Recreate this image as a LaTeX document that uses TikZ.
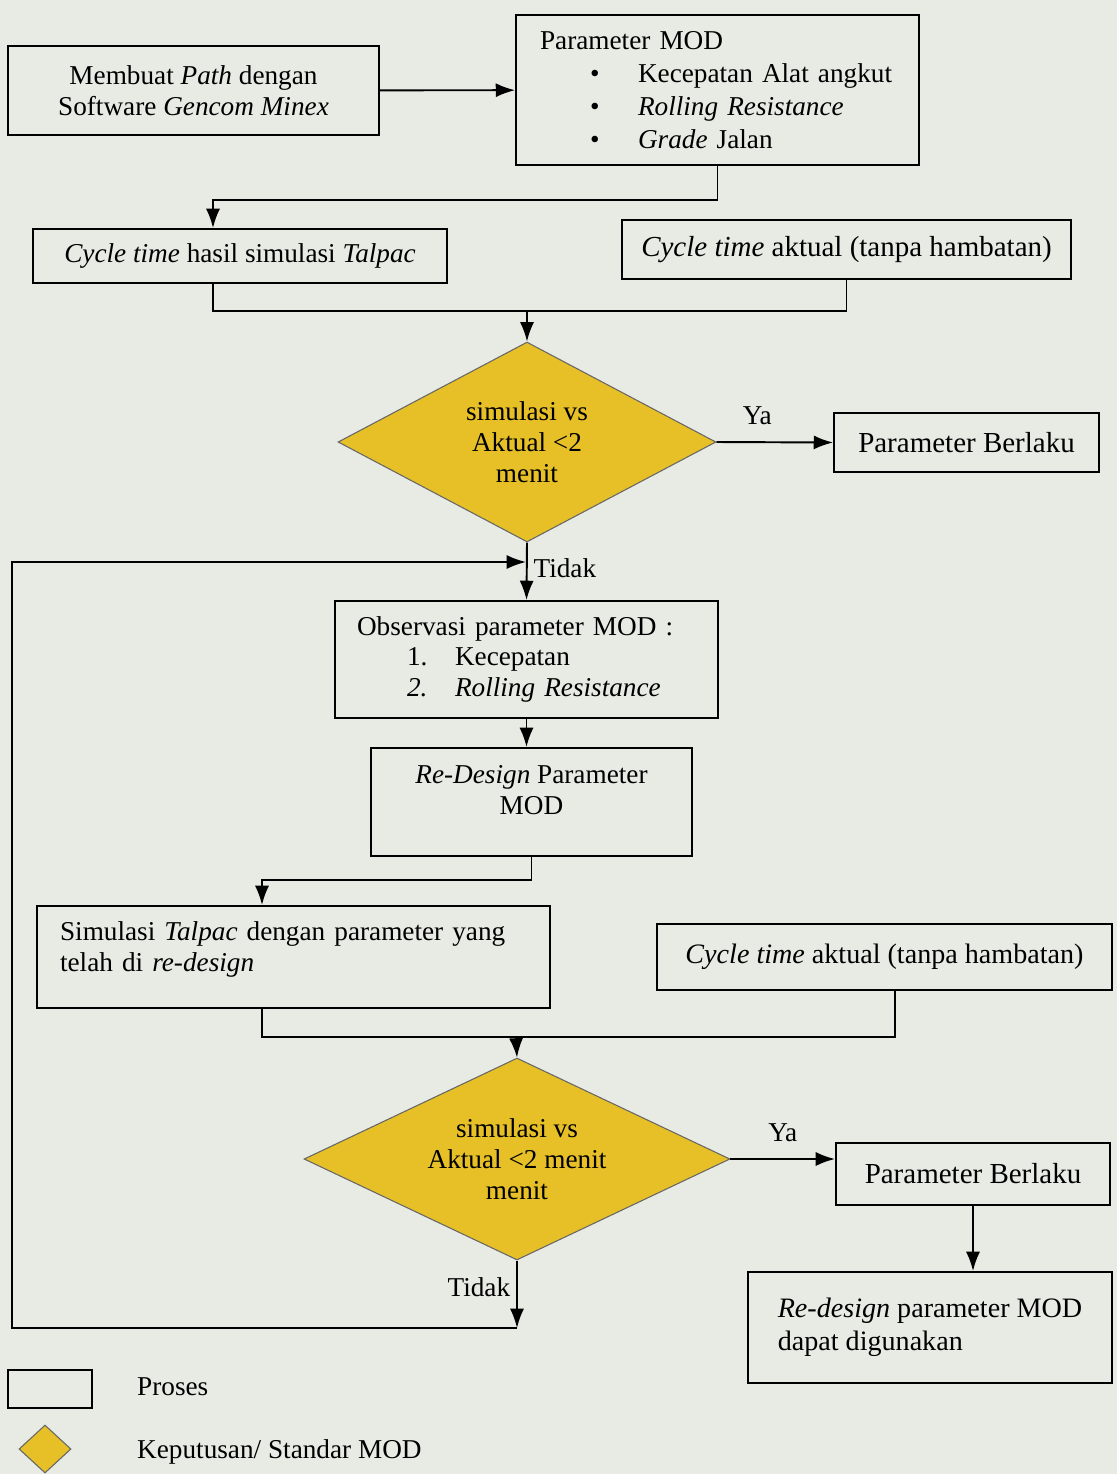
\documentclass[tikz,border=0pt]{standalone}
\usepackage{fontspec}
\setmainfont{Liberation Serif}
\usetikzlibrary{shapes.geometric, arrows.meta}

\definecolor{latar}{RGB}{232,234,228}
\definecolor{kuning}{RGB}{230,192,38}

\tikzset{
  teks/.style={font={\fontsize{15.5}{17.5}\selectfont}},
  proses/.style={draw=black, line width=1.1pt, inner sep=0pt, teks},
  keputusan/.style={diamond, aspect=2.2, draw=black!60, fill=kuning, line width=0.6pt, inner sep=0pt, align=center, teks},
  garis/.style={line width=1.1pt},
  panah/.style={line width=1.1pt, -{Latex[length=11pt, width=8pt]}},
}

\begin{document}
\begin{tikzpicture}[x=0.02cm, y=-0.02cm]

\fill [latar] (0,0) rectangle (1117,1474);
\useasboundingbox (0,0) rectangle (1117,1474);

% baris atas
\node [proses, minimum width=7.42cm, minimum height=1.78cm, align=center] (path)
 at (193.5, 90.5) {Membuat \textit{Path} dengan\\Software \textit{Gencom Minex}};

\node [proses, minimum width=8.06cm, minimum height=3cm, text width=7.1cm, inner xsep=0.48cm,
align=left, font={\fontsize{15.5}{18.7}\selectfont}] (param)
 at (717.5, 90) {Parameter MOD\\
\hspace*{1cm}\makebox[0.96cm][l]{\textbullet}Kecepatan Alat angkut\\
\hspace*{1cm}\makebox[0.96cm][l]{\textbullet}\textit{Rolling Resistance}\\
\hspace*{1cm}\makebox[0.96cm][l]{\textbullet}\textit{Grade} Jalan};

\node [proses, minimum width=8.28cm, minimum height=1.08cm] (hasil)
 at (240, 256) {\textit{Cycle time} hasil simulasi \textit{Talpac}};

\node [proses, minimum width=8.98cm, minimum height=1.18cm, font={\fontsize{16.5}{18}\selectfont}] (aktual)
 at (846.5, 249.5) {\textit{Cycle time} aktual (tanpa hambatan)};

% keputusan pertama
\node [keputusan, minimum width=7.56cm, minimum height=4cm] (cek1)
 at (527, 442) {simulasi vs\\Aktual <2\\menit};

\node [proses, minimum width=5.3cm, minimum height=1.18cm, font={\fontsize{16.5}{18}\selectfont}] (berlaku1)
 at (966.5, 442.5) {Parameter Berlaku};

\node [proses, minimum width=7.66cm, minimum height=2.34cm, text width=6.78cm, inner xsep=0.44cm,
align=left, font={\fontsize{15.5}{17}\selectfont}] (observasi)
 at (526.5, 659.5) {Observasi parameter MOD :\\
\hspace*{1cm}\makebox[0.96cm][l]{1.}Kecepatan\\[1pt]
\hspace*{1cm}\makebox[0.96cm][l]{\textit{2.}}\textit{Rolling Resistance}};

\node [proses, minimum width=6.42cm, minimum height=2.16cm, align=center] (redesign)
 at (531.5, 802) {\textit{Re-Design} Parameter\\MOD\\[-4pt]\mbox{}};

% simulasi ulang
\node [proses, minimum width=10.26cm, minimum height=2.04cm, text width=9.34cm, inner xsep=0.46cm,
align=left] (simulasi)
 at (293.5, 957) {Simulasi \textit{Talpac} dengan parameter yang\\telah di \textit{re-design}\\[-6pt]\mbox{}};

\node [proses, minimum width=9.1cm, minimum height=1.32cm, font={\fontsize{16}{18}\selectfont}] (aktual2)
 at (884.5, 957) {\textit{Cycle time} aktual (tanpa hambatan)};

% keputusan kedua
\node [keputusan, minimum width=8.52cm, minimum height=4.04cm] (cek2)
 at (517, 1159) {simulasi vs\\Aktual <2 menit\\menit};

\node [proses, minimum width=5.48cm, minimum height=1.24cm, font={\fontsize{16.5}{18}\selectfont}] (berlaku2)
 at (973, 1174) {Parameter Berlaku};

\node [proses, minimum width=7.28cm, minimum height=2.22cm, align=left, font={\fontsize{16}{19}\selectfont}] (guna)
 at (930, 1327.5) {\textit{Re-design} parameter MOD\\dapat digunakan};

% keterangan
\node [proses, minimum width=1.68cm, minimum height=0.76cm] (leg-proses) at (50, 1389) {};
\node [teks, anchor=west] (leg-proses-teks) at (131, 1387) {Proses};
\node [keputusan, aspect=1, minimum width=1.04cm, minimum height=0.96cm] (leg-keputusan) at (45, 1449) {};
\node [teks, anchor=west] (leg-keputusan-teks) at (131, 1452) {Keputusan/ Standar MOD};

% titik bantu
\coordinate (b1) at (213, 200);
\coordinate (gab1) at (527, 311);
\coordinate (masuk) at (526, 562);
\coordinate (kiri-atas) at (12, 562);
\coordinate (bawah) at (517, 1328);
\coordinate (kiri) at (12, 1328);
\coordinate (b2) at (262, 880);
\coordinate (b3) at (895, 1037);
\coordinate (gab2) at (516, 1037);

% penghubung
\draw [panah] (path) -- (param);
\draw [panah] (param.south) |- (b1) -- (b1 |- hasil.north);
\draw [garis] (hasil.south -| b1) |- (aktual.south |- gab1) -- (aktual.south);
\draw [panah] (gab1) -- (cek1.north);

\draw [panah] (cek1.east) -- node [teks, above, pos=0.35, yshift=6pt] {Ya} (berlaku1.west);
\draw [panah] (cek1.south) -- node [teks, right, pos=0.44] {Tidak} (observasi.north);

\draw [panah] (observasi.south) -- (observasi.south |- redesign.north);
\draw [panah] (redesign.south) |- (b2) -- (b2 |- simulasi.north);
\draw [garis] (simulasi.south -| b2) |- (b3) -- (b3 |- aktual2.south);
\draw [panah] (gab2) -- (cek2.north);

\draw [panah] (cek2.east) -- node [teks, above, yshift=6pt] {Ya} (cek2.east -| berlaku2.west);
\draw [panah] (berlaku2.south) -- (berlaku2.south |- guna.north);

\draw [panah] (cek2.south) -- node [teks, left, pos=0.4] {Tidak} (bawah);
\draw [panah] (bawah) -- (kiri) -- (kiri-atas) -- (masuk);

\end{tikzpicture}
\end{document}
